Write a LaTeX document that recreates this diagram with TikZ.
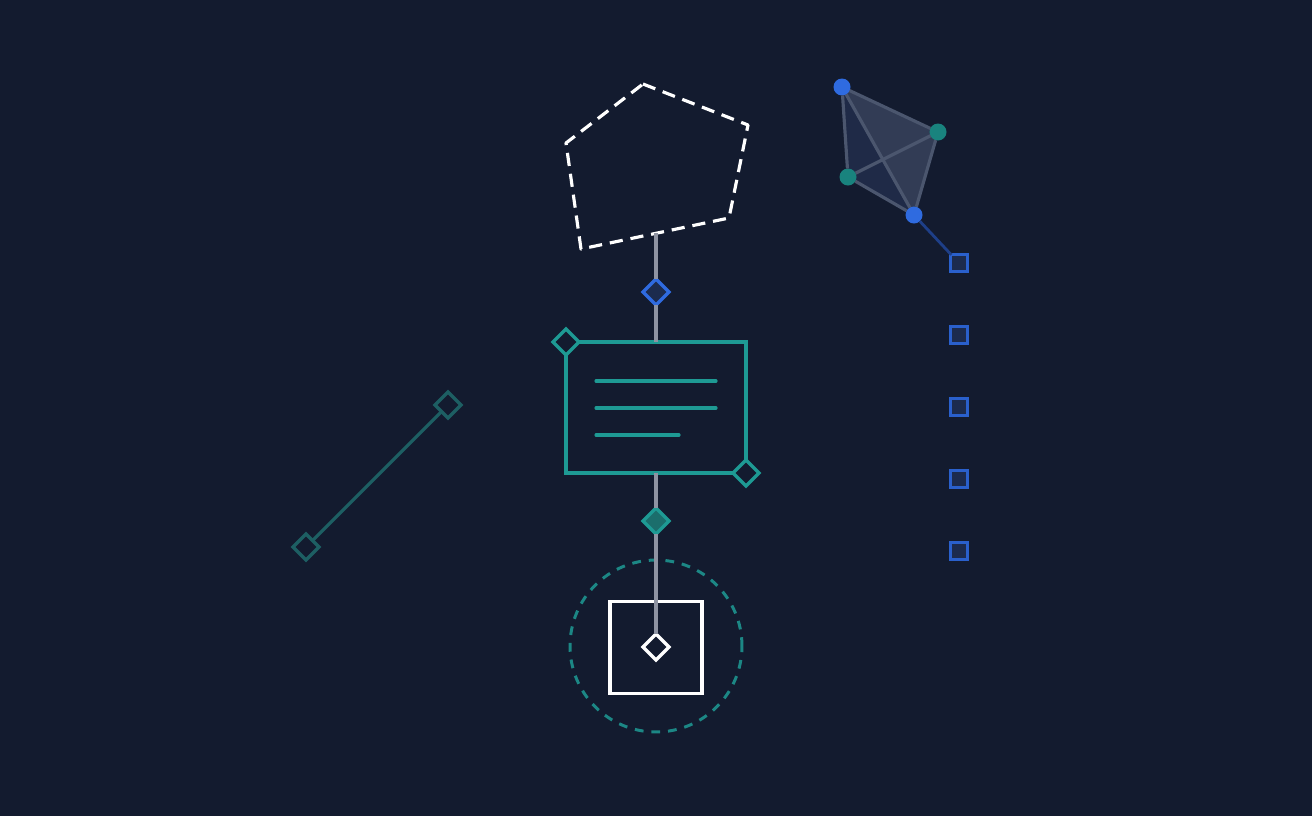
\documentclass[tikz,border=0pt]{standalone}
\usetikzlibrary{shapes.geometric}
\definecolor{bg}{HTML}{131B2F}
\definecolor{tealc}{HTML}{1E9A94}
\definecolor{teald}{HTML}{1D5F63}
\definecolor{tealf}{HTML}{1B6E6C}
\definecolor{bluec}{HTML}{2F6BE0}
\definecolor{portc}{HTML}{2A60CC}
\definecolor{bluef}{HTML}{1C2B4E}
\definecolor{linkc}{HTML}{1E3F88}
\definecolor{spinec}{HTML}{8E93A2}
\definecolor{edgec}{HTML}{4B566E}
\definecolor{facel}{HTML}{1F2A47}
\definecolor{facer}{HTML}{323C55}
\pgfdeclarelayer{back}
\pgfsetlayers{back,main}
\tikzset{
  handle/.style={diamond, draw, line width=1.9pt, inner sep=0pt, outer sep=0pt, minimum size=0.52cm, fill=bg},
  vertex/.style={circle, inner sep=0pt, outer sep=0pt, minimum size=0.34cm},
  port/.style={rectangle, draw=portc, line width=1.8pt, fill=bluef, inner sep=0pt, outer sep=0pt, minimum size=0.33cm},
  spine/.style={spinec, line width=2pt},
}
\begin{document}
\begin{tikzpicture}[x=0.02cm,y=-0.02cm]
  \useasboundingbox (0,0) rectangle (1312,816);
  \begin{pgfonlayer}{back}
    \fill[bg] (0,0) rectangle (1312,816);
  \end{pgfonlayer}

  % dashed pentagon on top
  \draw[white, line width=1.8pt, dash pattern=on 7.5pt off 4.5pt, line join=round]
    (643,84) -- (748,125) -- (729,218) -- (581,249) -- (566,143) -- cycle;
  \coordinate (pbase) at (656,233);

  % middle column
  \node[handle, draw=bluec, fill=bluef] (hub1) at (656,292) {};
  \node[draw=tealc, line width=1.9pt, minimum width=3.6cm, minimum height=2.62cm, inner sep=0pt, outer sep=0pt] (card) at (656,407.5) {};
  \draw[tealc, line width=1.8pt, line cap=round] (596,381) -- (716,381);
  \draw[tealc, line width=1.8pt, line cap=round] (596,408) -- (716,408);
  \draw[tealc, line width=1.8pt, line cap=round] (596,435) -- (679,435);
  \node[handle, draw=tealc] (cnw) at (card.north west) {};
  \node[handle, draw=tealc] (cse) at (card.south east) {};
  \node[handle, draw=tealc, fill=tealf] (hub2) at (656,521) {};
  \node[circle, draw=tealc!85!bg, line width=1.7pt, dash pattern=on 5pt off 4.5pt, minimum size=3.44cm, inner sep=0pt] (ring) at (656,646) {};
  \node[draw=white, line width=1.9pt, minimum size=1.84cm, inner sep=0pt] (frame) at (656,647.5) {};
  \node[handle, draw=white] (core) at (656,647) {};

  \draw[spine] (pbase) -- (hub1);
  \draw[spine] (hub1) -- (card);
  \draw[spine] (card) -- (hub2);
  \draw[spine] (hub2) -- (core);

  % left segment
  \node[handle, draw=teald] (seg1) at (306,547) {};
  \node[handle, draw=teald] (seg2) at (448,405) {};
  \draw[teald, line width=1.8pt] (seg1) -- (seg2);

  % tetrahedron
  \node[vertex, fill=bluec] (va) at (842,87) {};
  \node[vertex, fill=tealc!85!black] (vb) at (938,132) {};
  \node[vertex, fill=tealc!85!black] (vc) at (848,177) {};
  \node[vertex, fill=bluec] (vd) at (914,215) {};
  \begin{pgfonlayer}{back}
    \fill[facel] (va.center) -- (vb.center) -- (vd.center) -- (vc.center) -- cycle;
    \fill[facer] (va.center) -- (vb.center) -- (vd.center) -- cycle;
  \end{pgfonlayer}
  \draw[edgec, line width=1.8pt] (va) -- (vb);
  \draw[edgec, line width=1.8pt] (va) -- (vc);
  \draw[edgec, line width=1.8pt] (va) -- (vd);
  \draw[edgec, line width=1.8pt] (vb) -- (vc);
  \draw[edgec, line width=1.8pt] (vb) -- (vd);
  \draw[edgec, line width=1.8pt] (vc) -- (vd);

  % column of ports
  \foreach \i/\y in {1/263,2/335,3/407,4/479,5/551}
    \node[port] (port\i) at (959,\y) {};
  \draw[linkc, line width=1.6pt] (vd) -- (port1);
\end{tikzpicture}
\end{document}
